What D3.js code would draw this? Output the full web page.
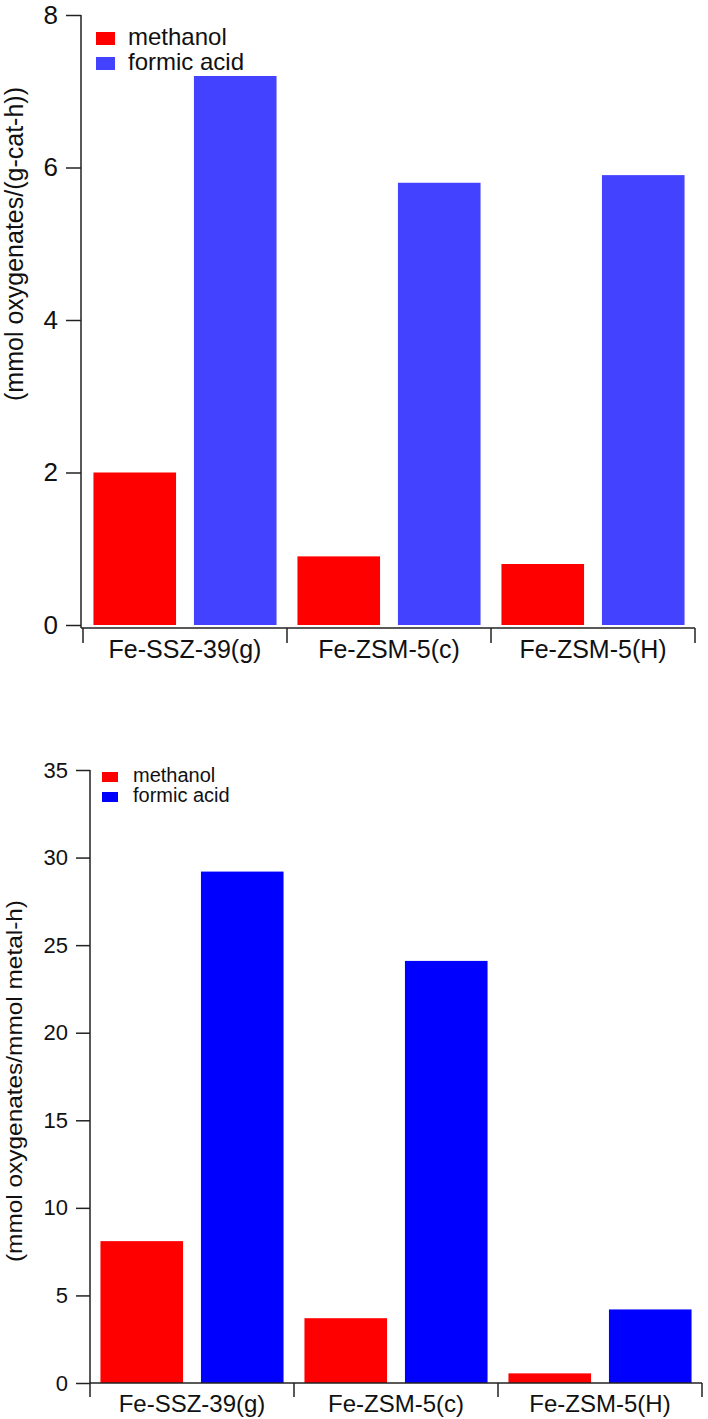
<!DOCTYPE html>
<html>
<head>
<meta charset="utf-8">
<script src="https://cdn.jsdelivr.net/npm/d3@7"></script>
<style>
  body { margin: 0; background: #fff; }
  svg { display: block; font-family: "Liberation Sans", Arial, Helvetica, sans-serif; }
</style>
</head>
<body>
<div id="chart"></div>
<script>
const widthValue = 708;
const heightValue = 1419;

// data
const categories = ["Fe-SSZ-39(g)", "Fe-ZSM-5(c)", "Fe-ZSM-5(H)"];
const seriesNames = ["methanol", "formic acid"];
const methanolPerCat = [2.0, 0.9, 0.8];
const formicPerCat = [7.2, 5.8, 5.9];
const methanolPerMetal = [8.1, 3.7, 0.55];
const formicPerMetal = [29.2, 24.1, 4.2];
const ticksTop = [0, 2, 4, 6, 8];
const ticksBottom = [0, 5, 10, 15, 20, 25, 30, 35];

const svg = d3.select("#chart")
  .append("svg")
  .attr("width", widthValue)
  .attr("height", heightValue);

function drawPanel(p) {
  const g = svg.append("g");

  const x = d3.scaleBand()
    .domain(categories)
    .range(p.xRange)
    .padding(0);

  // two bars inside each category
  const xs = d3.scaleBand()
    .domain(seriesNames)
    .range([0, x.bandwidth()])
    .paddingInner(0.178)
    .paddingOuter(0.104);

  const y = d3.scaleLinear()
    .domain(p.yDomain)
    .range(p.yRange);

  const rows = categories.map((c, i) => ({cat: c, vals: [p.series[0][i], p.series[1][i]]}));

  // bars
  g.selectAll(".grp")
    .data(rows)
    .join("g")
    .attr("transform", d => "translate(" + x(d.cat) + ",0)")
    .selectAll("rect")
    .data(d => d.vals.map((v, k) => ({name: seriesNames[k], v: v})))
    .join("rect")
    .attr("x", d => xs(d.name))
    .attr("width", xs.bandwidth())
    .attr("y", d => y(d.v))
    .attr("height", d => y(0) - y(d.v))
    .attr("fill", (d, k) => p.colors[k]);

  // y axis
  const yAxis = g.append("g")
    .attr("transform", "translate(" + p.axisX + ",0)")
    .call(d3.axisLeft(y).tickValues(p.ticks).tickSize(p.tickLen).tickSizeOuter(0).tickPadding(8));
  yAxis.select(".domain").remove();
  yAxis.selectAll("line").attr("stroke", "#222").attr("stroke-width", 1.5);
  yAxis.selectAll("text")
    .attr("fill", "#111")
    .style("font-size", p.tickFont + "px");

  g.append("line")
    .attr("x1", p.axisX).attr("x2", p.axisX)
    .attr("y1", y(p.yDomain[1])).attr("y2", p.xAxisY)
    .attr("stroke", "#222").attr("stroke-width", 1.5);

  // x axis with ticks on category boundaries
  g.append("line")
    .attr("x1", p.axisX).attr("x2", p.xRange[1])
    .attr("y1", p.xAxisY).attr("y2", p.xAxisY)
    .attr("stroke", "#222").attr("stroke-width", 1.5);

  const bounds = categories.map(c => x(c)).concat([p.xRange[1]]);
  g.selectAll(".xtick")
    .data(bounds)
    .join("line")
    .attr("x1", d => d).attr("x2", d => d)
    .attr("y1", p.xAxisY).attr("y2", p.xAxisY + p.xTickLen)
    .attr("stroke", "#222").attr("stroke-width", 1.5);

  g.selectAll(".xlab")
    .data(categories)
    .join("text")
    .attr("x", d => x(d) + x.bandwidth() / 2)
    .attr("y", p.xLabelY)
    .attr("text-anchor", "middle")
    .attr("fill", "#111")
    .style("font-size", p.xFont + "px")
    .text(d => d);

  // y title
  const title = g.append("text")
    .attr("transform", "translate(" + p.titleX + "," + p.titleY + ") rotate(-90)")
    .attr("text-anchor", "middle")
    .attr("fill", "#111")
    .style("font-size", p.titleFont + "px")
    .text(p.title);
  if (p.titleLen) {
    title.attr("textLength", p.titleLen).attr("lengthAdjust", "spacingAndGlyphs");
  }

  // legend
  const leg = g.selectAll(".leg")
    .data(seriesNames)
    .join("g")
    .attr("transform", (d, i) => "translate(" + p.legX + "," + (p.legY + i * p.legStep) + ")");
  leg.append("rect")
    .attr("x", 0).attr("y", -p.legBox[1])
    .attr("width", p.legBox[0]).attr("height", p.legBox[1])
    .attr("fill", (d, i) => p.colors[i]);
  leg.append("text")
    .attr("x", p.legText)
    .attr("y", 0)
    .attr("fill", "#111")
    .style("font-size", p.legFont + "px")
    .text(d => d);
}

drawPanel({
  series: [methanolPerCat, formicPerCat],
  colors: ["#ff0000", "#4343ff"],
  yDomain: [0, 8], yRange: [625, 15], ticks: ticksTop,
  xRange: [83, 695], axisX: 81, xAxisY: 628,
  tickLen: 15, xTickLen: 15, tickFont: 26,
  xLabelY: 658, xFont: 25,
  title: "(mmol oxygenates/(g-cat-h))", titleX: 23, titleY: 244, titleFont: 25,
  legX: 96, legY: 45, legStep: 25, legBox: [19, 13], legText: 32, legFont: 24
});

drawPanel({
  series: [methanolPerMetal, formicPerMetal],
  colors: ["#ff0000", "#0000ff"],
  yDomain: [0, 35], yRange: [1383, 770], ticks: ticksBottom,
  xRange: [90, 702], axisX: 90, xAxisY: 1383,
  tickLen: 14, xTickLen: 14, tickFont: 22,
  xLabelY: 1412, xFont: 24,
  title: "(mmol oxygenates/mmol metal-h)", titleX: 22, titleY: 1081, titleFont: 22, titleLen: 362,
  legX: 102, legY: 782, legStep: 20, legBox: [16, 10], legText: 31, legFont: 20
});
</script>
</body>
</html>
